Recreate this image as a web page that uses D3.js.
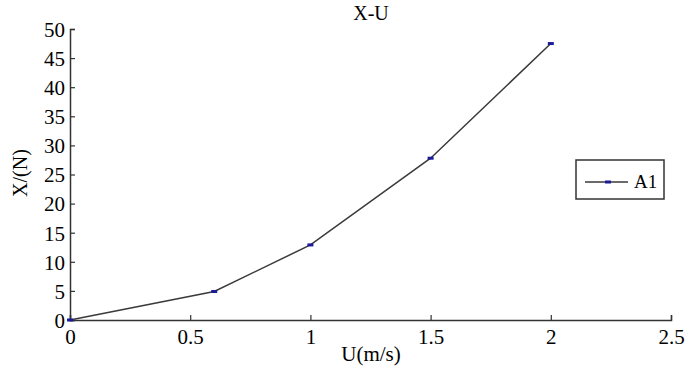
<!DOCTYPE html>
<html>
<head>
<meta charset="utf-8">
<script src="https://cdn.jsdelivr.net/npm/d3@7"></script>
<style>
  body { margin: 0; background: #fff; }
</style>
</head>
<body>
<div id="chart"></div>
<script>
// data
const speeds = [0, 0.6, 1.0, 1.5, 2.0];
const forces = [0, 4.9, 12.9, 27.8, 47.5];
const xTicks = [0, 0.5, 1, 1.5, 2, 2.5];
const yTicks = [0, 5, 10, 15, 20, 25, 30, 35, 40, 45, 50];
const seriesName = "A1";

const width = 685, height = 368;
const margin = {top: 29, right: 14, bottom: 48, left: 70};
const w = width - margin.left - margin.right;
const h = height - margin.top - margin.bottom;

const svg = d3.select("#chart").append("svg")
  .attr("width", width)
  .attr("height", height)
  .attr("font-family", "serif");

const x = d3.scaleLinear().domain([0, 2.5]).range([0, w]);
const y = d3.scaleLinear().domain([0, 50]).range([h, 0]);

const g = svg.append("g")
  .attr("transform", `translate(${margin.left},${margin.top})`);

// axes, ticks pointing inward
const xAxis = g.append("g")
  .attr("transform", `translate(0,${h})`)
  .call(d3.axisBottom(x).tickValues(xTicks).tickSize(-5).tickPadding(9).tickFormat(d3.format("")));
const yAxis = g.append("g")
  .call(d3.axisLeft(y).tickValues(yTicks).tickSize(-5).tickPadding(5));

[xAxis, yAxis].forEach(a => {
  a.attr("font-family", "serif").attr("font-size", 21);
  a.select(".domain").attr("stroke", "#333").attr("stroke-width", 1.5);
  a.selectAll(".tick line").attr("stroke", "#333").attr("stroke-width", 1.2);
  a.selectAll("text").attr("fill", "#000").attr("font-family", "serif");
});
xAxis.selectAll("text").attr("dy", "0.72em");
yAxis.selectAll("text").attr("dy", "0.35em");

const data = speeds.map((s, i) => ({s, f: forces[i]}));

g.append("path")
  .datum(data)
  .attr("fill", "none")
  .attr("stroke", "#3a3a3a")
  .attr("stroke-width", 1.5)
  .attr("d", d3.line().x(d => x(d.s)).y(d => y(d.f)));

g.selectAll("rect.pt")
  .data(data)
  .enter().append("rect")
  .attr("class", "pt")
  .attr("x", d => x(d.s) - 3)
  .attr("y", d => y(d.f) - 1.5)
  .attr("width", 6)
  .attr("height", 3)
  .attr("fill", "#1a1a9a");

// title and labels
svg.append("text")
  .attr("x", 371).attr("y", 20)
  .attr("text-anchor", "middle")
  .attr("font-family", "serif")
  .attr("font-size", 20)
  .text("X-U");

svg.append("text")
  .attr("x", 371).attr("y", 361)
  .attr("text-anchor", "middle")
  .attr("font-family", "serif")
  .attr("font-size", 21)
  .text("U(m/s)");

svg.append("text")
  .attr("transform", "translate(27,173) rotate(-90)")
  .attr("text-anchor", "middle")
  .attr("font-family", "serif")
  .attr("font-size", 20)
  .text("X/(N)");

// legend
const lg = svg.append("g").attr("transform", "translate(576,160)");
lg.append("rect")
  .attr("width", 88).attr("height", 39)
  .attr("fill", "#fff").attr("stroke", "#333").attr("stroke-width", 1.5);
lg.append("line")
  .attr("x1", 9).attr("x2", 52).attr("y1", 22).attr("y2", 22)
  .attr("stroke", "#3a3a3a").attr("stroke-width", 1.5);
lg.append("rect")
  .attr("x", 29).attr("y", 20.5).attr("width", 6).attr("height", 3)
  .attr("fill", "#1a1a9a");
lg.append("text")
  .attr("x", 58).attr("y", 28)
  .attr("font-family", "serif")
  .attr("font-size", 19)
  .text(seriesName);
</script>
</body>
</html>
